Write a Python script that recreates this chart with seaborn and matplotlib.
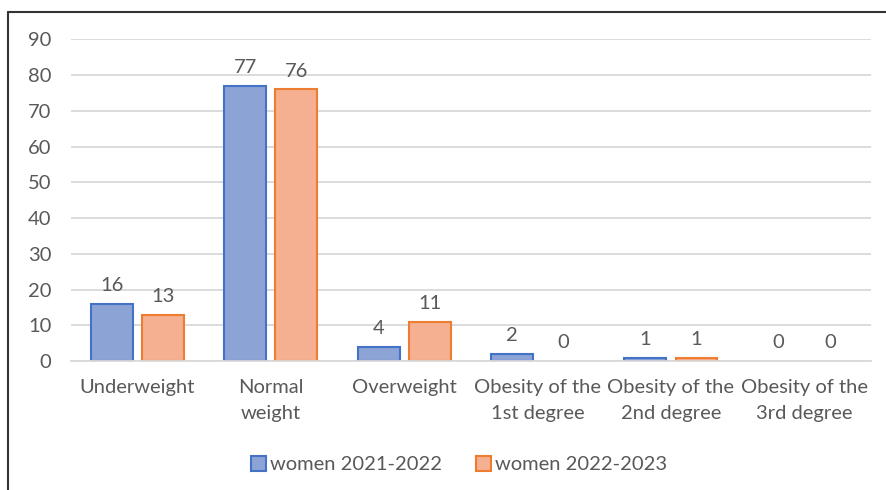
import matplotlib
matplotlib.use("Agg")
import matplotlib.pyplot as plt
import seaborn as sns
import pandas as pd
from matplotlib.lines import Line2D

categories = ["Underweight", "Normal\nweight", "Overweight", "Obesity of the\n1st degree",
              "Obesity of the\n2nd degree", "Obesity of the\n3rd degree"]
series_names = ["women 2021-2022", "women 2022-2023"]
values_2122 = [16, 77, 4, 2, 1, 0]
values_2223 = [13, 76, 11, 0, 1, 0]
yticks = [0, 10, 20, 30, 40, 50, 60, 70, 80, 90]

df = pd.DataFrame({
    "category": categories * 2,
    "series": [series_names[0]] * len(categories) + [series_names[1]] * len(categories),
    "value": values_2122 + values_2223,
})

sns.set_theme(style="white")
plt.rcParams["font.family"] = ["Lato", "DejaVu Sans"]
text_color = "#595959"
fs = 14.5

fig = plt.figure(figsize=(8.86, 4.9), dpi=100)
ax = fig.add_axes([0.080, 0.263, 0.903, 0.657])

fills = ["#8CA3D6", "#F5AF91"]
edges = ["#4472C4", "#ED7D31"]

sns.barplot(data=df, x="category", y="value", hue="series", order=categories,
            hue_order=series_names, palette=fills, width=0.767, gap=0.18,
            ax=ax, legend=False, saturation=1)

for i, cont in enumerate(ax.containers):
    for p in cont:
        p.set_edgecolor(edges[i])
        p.set_linewidth(1.5 if p.get_height() > 0 else 0)
    ax.bar_label(cont, padding=7, fontsize=fs, color=text_color)

ax.set_ylim(0, 90)
ax.set_yticks(yticks)
ax.set_xlim(-0.5, len(categories) - 0.5)
ax.yaxis.grid(True, color="#D9D9D9", linewidth=1.3)
ax.set_axisbelow(True)
for s in ["top", "right", "left"]:
    ax.spines[s].set_visible(False)
ax.spines["bottom"].set_color("#D9D9D9")
ax.spines["bottom"].set_linewidth(1.3)
ax.set_xlabel("")
ax.set_ylabel("")
ax.tick_params(axis="y", length=0, pad=14, labelsize=fs, labelcolor=text_color)
ax.tick_params(axis="x", length=0, pad=13, labelsize=fs, labelcolor=text_color)
for lab in ax.get_xticklabels():
    lab.set_linespacing(1.65)

handles = [plt.Rectangle((0, 0), 1, 1, facecolor=fills[i], edgecolor=edges[i], linewidth=1.5)
           for i in range(2)]
fig.legend(handles, series_names, loc="center", bbox_to_anchor=(0.518, 0.052), ncol=2,
           frameon=False, fontsize=fs, labelcolor=text_color, handlelength=0.75,
           handleheight=0.75, handletextpad=0.2, columnspacing=1.7)

fig.add_artist(Line2D([0.009, 1.0], [0.976, 0.976], color="#333333", linewidth=1.5,
                      transform=fig.transFigure))
fig.add_artist(Line2D([0.009, 0.009], [0.976, 0.0], color="#333333", linewidth=1.5,
                      transform=fig.transFigure))

fig.savefig("out.png", dpi=100)
